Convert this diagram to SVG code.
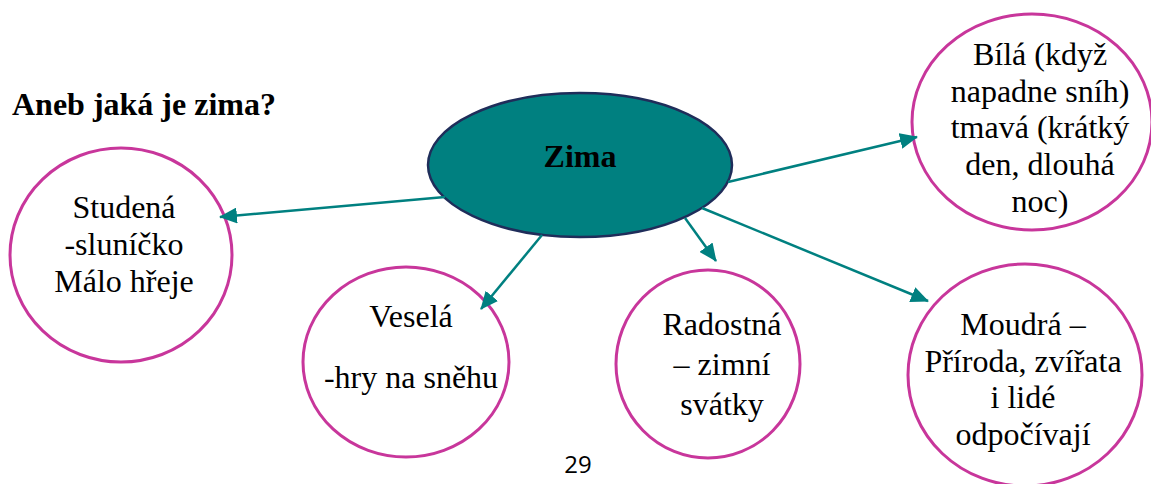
<svg xmlns="http://www.w3.org/2000/svg" width="1151" height="484" viewBox="0 0 1151 484">
<style>
.bg{fill:#ffffff}
.c{fill:none;stroke:#C8369B;stroke-width:3}
.t{font-size:32px;fill:#000;text-anchor:middle}
.b{font-size:32px;font-weight:bold;fill:#000}
.conn{stroke:#008080;stroke-width:2.5;fill:none;marker-end:url(#ah)}
.pg{font-size:24px;fill:#000;text-anchor:middle}
</style>
<defs>
<marker id="ah" markerUnits="userSpaceOnUse" markerWidth="18" markerHeight="16" viewBox="0 0 18 16" refX="17" refY="8" orient="auto">
<path d="M0,0 L18,8 L0,16 Z" fill="#008080"/>
</marker>
</defs>
<rect class="bg" x="0" y="0" width="1151" height="484"/>
<g font-family="Liberation Serif, Times New Roman, serif">
<g id="title"><text class="b" x="12" y="115">Aneb jaká je zima?</text></g>
<g id="zima">
<ellipse cx="580" cy="165" rx="152" ry="72" fill="#008080" stroke="#1F2D5A" stroke-width="2.5"/>
<text class="b" x="580" y="167" text-anchor="middle">Zima</text>
</g>
<g id="studena">
<ellipse class="c" cx="121" cy="255" rx="111" ry="107"/>
<text class="t" x="124" y="218">Studená</text>
<text class="t" x="124" y="255">-sluníčko</text>
<text class="t" x="124" y="292">Málo hřeje</text>
</g>
<g id="vesela">
<ellipse class="c" cx="406" cy="362" rx="103" ry="95"/>
<text class="t" x="411" y="327">Veselá</text>
<text class="t" x="411" y="388">-hry na sněhu</text>
</g>
<g id="radostna">
<ellipse class="c" cx="708" cy="364" rx="92" ry="94"/>
<text class="t" x="722" y="335">Radostná</text>
<text class="t" x="722" y="375">– zimní</text>
<text class="t" x="722" y="415">svátky</text>
</g>
<g id="moudra">
<ellipse class="c" cx="1025" cy="375" rx="117" ry="111"/>
<text class="t" x="1023" y="335">Moudrá –</text>
<text class="t" x="1023" y="372">Příroda, zvířata</text>
<text class="t" x="1023" y="408">i lidé</text>
<text class="t" x="1023" y="445">odpočívají</text>
</g>
<g id="bila">
<ellipse class="c" cx="1032" cy="122" rx="120" ry="108"/>
<text class="t" x="1040" y="65">Bílá (když</text>
<text class="t" x="1040" y="102">napadne sníh)</text>
<text class="t" x="1040" y="138">tmavá (krátký</text>
<text class="t" x="1040" y="175">den, dlouhá</text>
<text class="t" x="1040" y="212">noc)</text>
</g>
</g>
<g id="connectors">
<path class="conn" d="M445,197 L220,217"/>
<path class="conn" d="M542,235 L481,309"/>
<path class="conn" d="M685,218 L716,261"/>
<path class="conn" d="M702,208 L928,301"/>
<path class="conn" d="M728,182 L917,137"/>
</g>
<g id="page"><text class="pg" x="578" y="473" font-family="Open Sans, Liberation Sans, sans-serif">29</text></g>
</svg>
